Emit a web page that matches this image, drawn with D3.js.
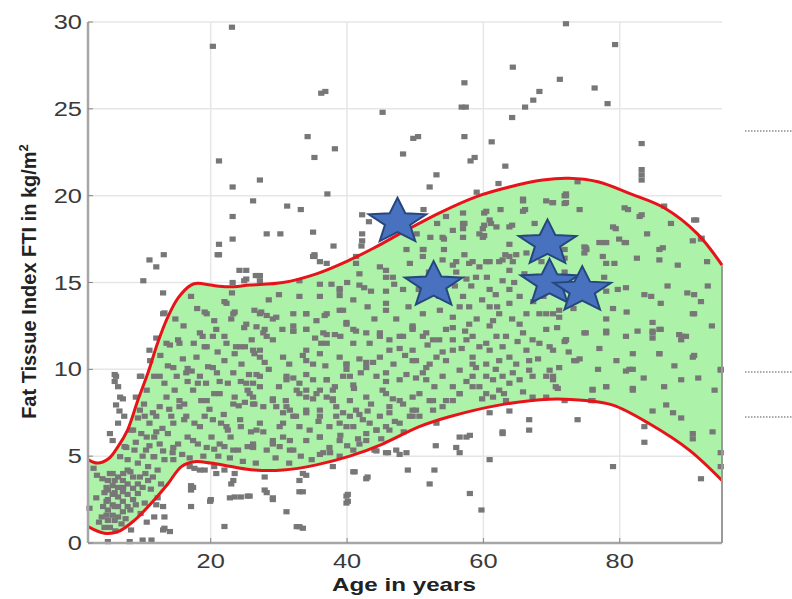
<!DOCTYPE html>
<html><head><meta charset="utf-8">
<script src="https://cdn.jsdelivr.net/npm/d3@7"></script>
<style>body{margin:0;background:#fff}svg{display:block}</style>
</head><body><svg id="c" width="792" height="599"></svg>
<script>
const xTicks=[20,40,60,80];
const yTicks=[0,5,10,15,20,25,30];
const upperAge=[2,3.4,5,6.4,7.8,9.3,10.8,12.2,13.7,15.2,17.1,18.1,20,22.5,25.7,30.6,35.5,40.4,44,47.7,53.5,59,63.8,68.7,72.5,76.8,81.6,86.5,91.4,95];
const upperFti=[4.8,4.6,4.85,5.55,6.5,8.2,9.8,11.5,13.0,14.1,14.85,14.95,14.85,14.75,14.85,15.0,15.5,16.3,17.0,17.8,19.0,19.95,20.5,20.9,21.0,20.8,20.1,19.3,17.8,16.0];
const lowerAge=[2,4.4,6.4,8.8,11.3,13.7,15.7,17.6,20,23,26.4,30.6,35.5,40.4,45.2,50.6,55,62.3,69.7,75,79,84.3,90.2,95];
const lowerFti=[0.94,0.56,0.65,1.3,2.3,3.4,4.4,4.68,4.6,4.4,4.2,4.2,4.5,5.0,5.7,6.7,7.27,7.94,8.28,8.2,7.94,6.88,5.35,3.6];
const starAge=[47.4,52.7,69.4,69.7,74.5];
const starFti=[18.5,14.85,17.25,14.98,14.56];

const ptsHigh=[[23.1,29.7],[20.3,28.6],[72.1,29.9],[79.3,28.7],[64.3,27.4],[57.2,26.5],[71.2,26.7],[76.3,26.2],[36.2,25.9],[36.8,26.0],[68.2,26.0],[67.3,25.5],[66.1,25.1],[78.2,25.3],[56.8,25.1],[57.4,25.1],[45.2,24.8],[64.2,24.5],[21.2,22.0],[34.2,23.4],[38.2,22.7],[35.2,22.2],[49.7,23.3],[50.4,23.4],[57.2,23.4],[61.2,23.1],[83.2,23.0],[48.2,22.4],[58.1,22.0],[58.7,22.2],[63.2,21.7],[53.1,21.2],[83.2,21.5],[83.2,20.9],[83.2,21.2],[23.2,20.5],[27.2,20.9],[62.2,20.7],[52.1,20.5],[37.1,20.1],[26.2,19.7],[31.2,19.4],[33.2,19.2],[23.2,18.8],[59.0,20.2],[42.2,18.9],[51.2,19.2],[28.2,17.8],[30.2,17.8],[35.0,17.9],[21.2,17.2],[23.2,17.5],[13.1,16.6],[11.0,16.3],[21.2,16.6],[42.2,17.8],[42.2,17.4],[38.0,17.1],[43.2,18.5],[35.2,16.6],[10.1,15.1],[12.0,15.9],[13.0,14.4],[24.2,15.7],[25.2,15.7],[25.2,15.2],[27.2,15.4],[27.2,15.1],[13.2,13.25],[12.0,11.8],[11.0,11.1],[6.1,9.6],[6.4,9.0],[7.1,8.3],[6.1,7.95],[6.6,7.6],[7.3,7.3],[6.4,6.9],[5.2,6.3],[5.6,5.9],[5.9,9.7],[5.9,9.3],[6.7,8.4],[21.0,16.6],[26.6,15.4],[35.2,16.5],[36.0,16.2],[37.0,16.1],[41.3,16.5],[35.0,16.5],[42.1,17.1]];

const ptsYoung=[[23.2,15.0],[24.9,15.1],[23.1,14.4],[17.1,14.2],[19.1,13.3],[22,13.9],[23.5,13.3],[23,12.9],[24.9,12.4],[26.4,13.4],[15.2,11.7],[14,11.4],[18.8,11.9],[20.3,11.9],[22,11.9],[19.1,11.3],[23.7,11.3],[25,11.3],[26.4,10.9],[17.9,10.7],[19.6,10.15],[22,10.5],[23.5,10.9],[16.6,10.05],[13.7,10.2],[11.7,9.6],[9.8,9.6],[13.2,9.2],[14.7,8.8],[16.6,9.3],[18.1,9.2],[19.3,9.2],[21.3,9.3],[22.5,9.2],[24.4,9.3],[25.4,8.8],[20.5,8.6],[23.5,8.4],[25,8.1],[26.4,8.0],[16.1,8.0],[15.4,7.85],[12.5,7.85],[11.5,7.5],[9.3,7.2],[14.2,7.3],[16.1,7.1],[17.6,6.9],[19.1,7.3],[21.5,6.9],[22.5,6.5],[24.4,6.7],[25.9,6.4],[8.3,6.5],[9.8,6.3],[11.7,6.1],[13.7,6.3],[15.2,5.7],[16.6,6.1],[18.1,5.7],[20.1,6.1],[20.5,5.4],[22,5.55],[24,5.35],[25.4,5.55],[7.35,5.55],[8.8,5.35],[10.5,5.35],[11.7,4.97],[13.2,4.8],[14.4,5.2],[7.8,4.8],[9.3,4.6],[10.8,4.4],[12.2,4.2],
[13,13.2],[19.4,13.2],[22.3,13.8],[23.3,13.2],[18.4,12.1],[20.8,12.3],[25.2,12.6],[13.5,11.5],[15.4,11.5],[19.4,11.3],[22.3,11.5],[24.3,11.3],[11.1,10.5],[12.5,9.6],[9.6,9.6],[14.5,10.1],[16.4,9.8],[18.4,9.6],[20.3,10.1],[23.3,9.8],[25.2,9.2],[10.6,8.8],[13.5,8.4],[15.4,8.2],[17.4,8.8],[19.4,8.2],[21.3,8.6],[23.3,8.0],[26.2,8.4],[9.6,7.65],[12,7.3],[14.5,6.9],[16.4,7.3],[18.4,6.7],[20.3,7.1],[22.3,6.7],[24.3,7.1],[8.6,6.5],[10.6,6.1],[12.5,5.7],[14.5,5.5],[17.4,5.9],[19.4,5.5],[21.3,5.7],[23.3,5.35],[26.2,5.5],[11.6,4.97],[14.5,4.8],[7.6,5.5],[6.7,4.97],
[9.0,8.4],[10.2,8.0],[11.0,6.9],[12.9,6.6],[13.9,7.7],[15.0,9.6],[15.9,10.6],[17.2,9.9],[18.6,8.2],[19.8,7.7],[20.9,9.8],[21.9,7.4],[22.9,6.1],[24.1,7.9],[25.6,9.7],[26.0,11.7],[24.5,10.3],[21.0,11.0],[17.5,11.5],[16.0,12.5],[14.8,12.9],[18.0,13.5],[20.5,12.8],[12.6,10.8],[10.3,7.3],[9.0,5.8],[10.0,5.0],[11.0,5.6],[12.0,6.4],[13.0,5.3],[15.8,5.1],[16.9,4.9],[18.9,5.0],[21.1,5.0],[22.8,4.9],[24.7,4.7],[26.6,4.6],[8.2,4.1],[9.6,3.8],[10.4,4.0],[11.2,3.1],[12.7,3.4],[12.0,2.2],[3.6,1.2],[3.2,2.6],[4.4,2.9],[4.1,3.7],[5.2,0.9],[6.0,0.7],[6.9,1.1],[7.5,1.4],[8.2,1.9],[9.0,2.2],[9.7,1.7],[10.6,1.2],[3.3,3.9],[2.8,4.3],
[4.9,3.6],[4.9,3.05],[4.9,2.5],[4.9,1.9],[4.9,1.3],[5.6,4.0],[5.6,3.3],[5.6,2.8],[5.6,2.2],[5.6,1.6],[6.4,3.8],[6.4,3.2],[6.4,2.65],[6.4,2.1],[6.4,1.5],[7.1,3.6],[7.1,2.95],[7.1,2.4],[7.1,1.8],[7.8,4.2],[7.8,3.4],[7.8,2.8],[7.8,2.1],[8.6,3.8],[8.6,3.15],[8.6,2.5],[9.3,3.4],[9.3,2.85],[10.0,3.2],[10.8,3.6],[11.5,3.8],[12.2,2.6],[13.0,2.1],[13.2,1.5],[11.7,1.5],[10.3,2.3],[4.2,2.1],[4.0,1.5],[4.4,0.9],[5.2,4.0],[4.7,3.2],[4.7,2.4],[4.7,1.6],[5.9,3.6],[5.9,2.9],[5.9,2.1],[5.9,1.3],[7.15,4.0],[7.15,3.2],[2.2,2.0],
[16.9,4.4],[17.6,4.3],[19.1,4.2],[20.5,4.4],[22,4.2],[23.5,4.0],[17.1,3.3],[17.1,3.05],[20,2.5],[17.1,2.1],[23.5,2.65],[24.4,2.65],[25.4,2.7],[23,3.4],[22,0.95],[13.2,0.85],[8.3,0.75],[4.9,0.08],[8.1,0.08],[10.0,0.17],[18.4,4.2],[20.8,4.0],[23.3,3.6],[17.4,3.2],[19.9,2.4],[22.8,2.6],[13,0.75],[14,0.66],[11.3,0.17]];

const ptsMid=[[26.9,15.4],[33.0,15.1],[36,14.9],[37.7,14.9],[38.9,14.65],[38.9,14.25],[41.8,14.85],[42.5,14.7],[43.5,14.5],[45.7,15.7],[46.7,15.3],[46.9,14.9],[45.7,14.5],[41.3,16.1],[40.9,14.0],[45.7,13.8],[45.7,13.4],[38.9,13.4],[27.4,13.3],[28.2,13.1],[29.1,12.9],[32.1,13.2],[34,13.2],[37,13.2],[39.9,12.7],[32.1,12.5],[32.1,12.2],[34,12.3],[26.7,12.45],[27.9,12.3],[29.1,11.7],[28.2,11.9],[37,12.0],[36.2,11.5],[36,10.9],[41.3,12.2],[42.8,12.1],[44.8,11.9],[46.2,11.7],[48.2,11.9],[49.6,12.3],[46.2,11.1],[47.7,11.2],[26.2,11.1],[27.2,10.7],[27.9,10.4],[34,11.1],[34,10.5],[38.9,10.7],[39.9,10.3],[39.9,10.0],[41.8,10.6],[42.8,10.4],[43.8,10.4],[49.6,11.1],[26.7,9.7],[26.2,9.2],[27.2,9.0],[31.1,9.6],[32.1,9.5],[33,9.2],[34,9.7],[35,9.4],[37,9.4],[40.4,9.6],[40.9,9.1],[44.3,9.6],[45.7,9.3],[48.7,9.7],[50.1,9.5],[33,8.6],[34,8.4],[35,8.3],[36,8.8],[37,8.4],[37.9,8.3],[45.7,8.6],[46.7,8.3],[25.7,8.6],[26.2,8.0],[27.7,7.85],[29.1,8.3],[29.6,7.85],[30.6,7.5],[31.6,7.65],[32.5,7.3],[34,7.5],[36,7.65],[38.4,7.85],[39.4,7.5],[40.4,7.3],[41.8,7.4],[43.3,6.9],[44.8,7.3],[46.2,7.5],[49.6,7.3],[50.1,7.65],[26.7,6.5],[27.7,6.4],[29.1,5.9],[30.6,6.9],[30.6,6.1],[31.6,5.9],[32.1,5.35],[33,6.7],[34.5,6.5],[36,6.1],[37.4,6.7],[38.9,6.9],[40.9,6.7],[42.8,6.3],[44.3,6.5],[46.2,6.5],[30.1,5.55],[28.2,5.35],[26.2,5.7],[36.5,5.2],[38.9,5.0],
[27.2,13.2],[29.6,13.0],[32.1,12.2],[27.7,12.1],[27.2,11.1],[30.6,10.7],[27.2,9.6],[31.1,9.4],[32.6,8.8],[29.1,8.2],[31.1,7.85],[27.2,6.9],[30.1,6.7],[32.1,7.3],[29.1,5.7],[31.6,5.35],
[34,13.2],[36.7,13.1],[39.4,13.4],[34,12.3],[36.5,12.1],[37,11.5],[39.9,12.6],[40.9,12.3],[40.9,11.5],[43.3,11.5],[44.8,12.1],[47.7,11.9],[49.6,12.4],[35,10.3],[37,9.4],[39.9,10.3],[39.4,9.6],[42.8,10.1],[44.8,10.7],[45.7,9.8],[47.7,9.4],[49.6,10.5],[34,8.8],[35.5,8.6],[37.9,8.8],[37.9,8.2],[40.4,8.2],[41.3,7.65],[42.8,8.4],[45.2,8.8],[46.2,7.85],[47.7,8.2],[49.6,7.65],[34,7.65],[36,7.3],[38.4,7.3],[39.9,6.7],[42.3,7.1],[44.3,6.5],[45.7,6.7],[47.7,6.9],[49.2,7.3],[34,5.9],[36,6.1],[37.4,5.5],[38.9,5.9],[40.9,5.35],[41.8,5.7],[36,5.1],
[41.8,15.5],[44.8,15.9],[45.7,15.3],[38.9,14.55],[48.7,16.9],[49.2,16.1],
[28.5,10.0],[30.0,9.0],[31.5,10.3],[33.5,10.8],[35.3,11.8],[36.8,10.2],[38.2,9.0],[39.0,11.9],[41.0,8.9],[42.0,9.8],[43.5,8.0],[44.0,12.9],[46.8,10.3],[48.5,10.8],[47.2,12.9],[49.0,13.6],[43.0,13.6],[36.0,14.2],[33.0,14.2],[30.0,14.3],[28.5,14.0],[30.5,12.3],[35.5,12.8],[38.2,12.0],[48.2,14.6],[40.0,15.0],[31.0,8.2],[35.8,7.0],[39.0,6.2],[41.6,6.0],[45.0,6.0],[47.0,7.0],[48.2,8.0],[43.0,7.6],[29.5,4.9],[31.5,4.6],[33.2,5.0],[34.8,4.8],[37.5,5.2],[40.0,5.6],[42.8,5.9],[48.3,6.4],
[27.9,3.8],[33,3.6],[34,3.9],[27.9,3.05],[29.1,2.6],[33,2.95],[31.1,1.8],[33,0.94],[37.9,4.4],[41.1,4.1],[42.8,3.7],[39.9,2.7],[39.9,2.3],[45.7,5.2],[47.2,5.35],[48.7,5.2],[48.9,4.2],[44.0,5.35],[25.7,2.7],[28.2,2.9],[29.1,2.5],[32.6,0.94],[33.5,4.0],[33.5,2.95],[33.5,0.85],[40.9,4.1],[43,3.8],[40.1,2.8],[40.1,2.4],[44.3,5.3],[46,5.2],[47.7,5.1]];

const ptsOld=[[51.1,16.5],[54,16.3],[56,16.2],[58.4,16.2],[60.4,16.2],[62.3,16.2],[64.3,16.2],[54.5,18.8],[57,19.0],[57,18.4],[54,17.6],[57,17.6],[59.4,17.8],[61.9,18.2],[63.8,18.2],[65.8,19.7],[69.2,19.7],[66.1,19.2],[70.1,19.6],[60.1,19.0],[61.1,18.4],[60.1,18.3],[57.2,18.4],[53.2,18.4],[64.2,18.3],[54.2,17.5],[51.2,16.9],[54.2,16.9],[57.2,16.6],[60.1,17.7],[63.2,16.6],
[65.8,19.8],[65.8,19.1],[70.2,19.6],[71.9,20.0],[71.9,19.55],[60.4,19.1],[60.9,18.6],[59.9,18.1],[59.9,17.6],[57,18.1],[63.8,17.2],[51.1,16.9],[55.5,16.0],[57.9,16.1],[59.4,15.9],[60.9,16.2],[62.8,16.3],[63.8,16.5],[64.8,16.6],[66.3,16.7],[58.9,15.3],[63.8,15.7],[62.8,15.1],[63.8,14.6],[60.9,14.6],[57,14.2],[57.9,13.6],[56.5,13.6],[60.9,13.6],[62.3,13.2],[63.8,13.8],[65.3,14.2],[68.2,13.2],[69.2,13.2],[71.1,13.4],[55.5,13.0],[53.6,13.4],[51.1,13.2],[49.6,12.5],[51.1,11.9],[52.6,11.7],[54.5,12.3],[55.5,11.7],[55.5,11.1],[57.9,12.6],[58.4,11.9],[60.9,12.5],[61.9,11.9],[60.4,11.5],[60.9,11.1],[62.8,11.3],[65.3,12.6],[65.8,12.1],[67.2,11.7],[69.7,11.3],[69.2,12.3],[72.1,11.7],[50.1,10.5],[52.1,10.3],[53.1,10.7],[58.4,10.7],[58.9,10.1],[60.4,10.3],[63.8,10.7],[64.8,10.3],[66.7,10.5],[66.7,9.95],[69.7,9.95],[71.1,10.1],[51.1,9.8],[51.6,9.4],[54,9.6],[55.5,9.0],[56.5,8.6],[58.4,9.6],[59.4,9.0],[61.4,9.4],[62.8,9.6],[63.8,9.2],[65.3,9.4],[69.2,9.6],[70.6,9.0],[49.6,8.4],[52.1,8.2],[54,7.85],[61.4,8.4],[63.3,8.2],[67.2,8.4],[69.2,8.4],[50.6,7.3],[53.1,6.9],
[51.6,12.1],[53.5,11.7],[55.5,12.4],[57.5,11.7],[59.4,11.3],[61.4,12.8],[63.3,11.9],[66.3,11.1],[68.2,11.5],[70.2,13.2],[51.6,10.1],[54.5,10.5],[56.5,9.95],[58.4,10.3],[60.4,9.6],[62.3,10.5],[64.3,9.8],[67.2,9.6],[70.2,9.6],[50.6,8.6],[52.6,8.2],[55.5,8.2],[56.5,8.6],[58.4,9.0],[60.4,8.6],[62.3,8.8],[52.6,7.65],[54.5,8.2],[71.1,13.0],[71.9,11.6],[70.2,11.1],[70.2,9.4],[70.9,8.9],
[50.5,14.6],[52.0,15.6],[53.5,14.2],[55.8,14.8],[57.5,15.2],[59.8,14.0],[61.8,14.3],[64.5,15.0],[66.0,15.5],[67.3,13.9],[66.3,13.2],[64.2,12.9],[59.0,12.9],[56.8,11.2],[54.0,11.0],[51.8,11.4],[52.8,9.0],[57.5,9.3],[59.8,8.3],[61.8,10.0],[63.0,8.6],[65.8,8.7],[68.0,10.6],[70.8,12.4],[71.5,14.6],[71.9,15.6],[68.5,16.2],[66.2,17.6],[67.5,18.4],[62.5,19.2],[55.5,18.0],[52.2,17.6],[50.2,17.8],[56.0,15.6],[58.2,14.8],[60.5,15.3],[57.3,12.2],[62.0,13.6],[65.0,11.6],[68.8,14.2],
[60.9,7.5],[63.8,7.6],[66.7,7.1],[66.7,6.5],[62.8,6.3],[58,6.2],[56.5,6.1],[52.8,4.2],[52.1,3.4],[53,5.6],[56,5.5],[56.5,5.2],[57.5,6.1],[58,2.85],[59.7,1.9],[60.9,4.8],[62.8,6.4]];

const ptsSenior=[[74.1,19.2],[72.1,20.0],[72.1,19.6],[81.2,19.2],[83.2,18.9],[79.4,18.1],[91.2,18.6],[92,17.55],[77.6,17.3],[80.7,17.3],[75.1,16.9],[86.3,17.0],[75,17.0],[72.1,20.1],
[73.8,20.8],[80.7,19.3],[82.9,18.8],[86.5,19.4],[90.9,18.6],[91.9,17.5],[90.7,17.4],[79,18.2],[79.9,17.5],[80.9,17.3],[77,17.3],[78,17.3],[74.8,17.05],[74.8,16.7],[85.8,16.9],[85.8,16.3],[71.9,16.9],[71.9,16.4],[78,16.1],[79.2,16.1],[77.7,15.3],[92.9,14.8],[78,14.5],[79.7,14.6],[80.9,14.7],[83.6,14.3],[84.6,14.2],[86,13.8],[89.9,14.4],[90.9,14.3],[91.9,13.9],[79,13.5],[90.7,13.2],[78,12.9],[84.8,12.7],[86,12.3],[84.8,12.2],[84.8,11.8],[88.7,12.0],[89.7,11.9],[89,11.7],[75,12.1],[78,12.1],[80.9,11.9],[72.1,11.7],[77,11.2],[81.9,10.9],[85.8,10.9],[90.7,10.7],[73.3,10.5],[74.1,10.6],[80.9,9.9],[81.9,10.0],[94.8,9.95],[89,9.4],[78,9.0],[76,8.85],[81.9,8.9],[93.9,8.8],[86.8,7.95],[84.8,7.6],[87.8,7.5],[89,7.2],[90.7,6.3],[90.7,6.0],[93.6,6.4],[94.8,5.2],[94.8,4.4],[71.9,8.2],[75.8,8.2],
[74.8,12.1],[78,12.2],[84.8,12.1],[85.8,12.3],[89.2,11.9],[90.9,10.8],[90.9,13.2],[85.8,10.9],[81.4,10.0],[76,8.8],[78,9.0],[81.9,8.8],[76,8.2],[73.6,10.5],[72.5,11.0],
[73.2,13.5],[76.2,13.8],[77.5,16.5],[82.5,16.4],[84.0,17.8],[87.5,18.4],[88.5,16.0],[87.0,14.8],[92.8,16.2],[93.5,12.5],[88.0,10.2],[83.5,9.5],[79.5,10.5],[76.8,10.0],[74.5,14.6],[81.0,13.3],[82.6,12.2],[86.5,9.0],[91.5,9.5],
[73.8,7.1],[79,4.4],[91.9,3.7],[83.6,6.7],[83.6,5.8],[94.8,10.0]];

const svg=d3.select('#c');
const x=d3.scaleLinear().domain([2,95]).range([88,722]);
const y=d3.scaleLinear().domain([0,30]).range([543,22]);
const SX=1.27;

// grid
svg.append('g').selectAll('line').data(xTicks).join('line')
  .attr('x1',d=>x(d)).attr('x2',d=>x(d)).attr('y1',y(30)).attr('y2',y(0))
  .attr('stroke','#e6e6e6').attr('stroke-width',1.5);
svg.append('g').selectAll('line').data(yTicks.filter(d=>d>0)).join('line')
  .attr('x1',x(2)).attr('x2',x(95)).attr('y1',d=>y(d)).attr('y2',d=>y(d))
  .attr('stroke','#e6e6e6').attr('stroke-width',1.5);

const upper=upperAge.map((a,i)=>[a,upperFti[i]]);
const lower=lowerAge.map((a,i)=>[a,lowerFti[i]]);
const line=d3.line().x(d=>x(d[0])).y(d=>y(d[1])).curve(d3.curveCatmullRom.alpha(0.5));
const up=line(upper), lo=line(lower.slice().reverse());
svg.append('path').attr('d',up+'L'+lo.slice(1)+'Z').attr('fill','#acf2a8').attr('stroke','none');

// points
const allPts=[].concat(ptsHigh,ptsYoung,ptsMid,ptsOld,ptsSenior);
svg.append('g').selectAll('rect').data(allPts).join('rect')
  .attr('x',d=>x(d[0])-3).attr('y',d=>y(d[1])-2.6).attr('width',6.2).attr('height',5.2)
  .attr('fill','#777777');

// curves
svg.append('path').attr('d',up).attr('fill','none').attr('stroke','#e8131a').attr('stroke-width',3);
svg.append('path').attr('d',line(lower)).attr('fill','none').attr('stroke','#e8131a').attr('stroke-width',3);

// axes
svg.append('line').attr('x1',x(2)).attr('x2',x(2)).attr('y1',y(30)).attr('y2',y(0)).attr('stroke','#a6a6a6').attr('stroke-width',2.5);
svg.append('line').attr('x1',x(2)).attr('x2',x(95)).attr('y1',y(0)).attr('y2',y(0)).attr('stroke','#a6a6a6').attr('stroke-width',2.5);
svg.append('line').attr('x1',x(95)).attr('x2',x(95)).attr('y1',y(upperFti[upperFti.length-1])).attr('y2',y(0)).attr('stroke','#9a9a9a').attr('stroke-width',2);
svg.append('g').selectAll('line').data(yTicks).join('line')
  .attr('x1',x(2)).attr('x2',x(2)+5).attr('y1',d=>y(d)).attr('y2',d=>y(d)).attr('stroke','#888').attr('stroke-width',1);
svg.append('g').selectAll('line').data(xTicks).join('line')
  .attr('x1',d=>x(d)).attr('x2',d=>x(d)).attr('y1',y(0)).attr('y2',y(0)-5).attr('stroke','#888').attr('stroke-width',1);

// stars
function starPath(R,r,sx){const p=[];for(let i=0;i<10;i++){const a=-Math.PI/2+i*Math.PI/5;const rr=i%2?r:R;p.push([Math.cos(a)*rr*sx,Math.sin(a)*rr]);}return 'M'+p.map(q=>q[0].toFixed(2)+','+q[1].toFixed(2)).join('L')+'Z';}
svg.append('g').selectAll('path').data(starAge.map((a,i)=>[a,starFti[i]])).join('path')
  .attr('transform',d=>`translate(${x(d[0])},${y(d[1])})`)
  .attr('d',starPath(24,10.5,1.26)).attr('fill','#4872bf').attr('stroke','#27467c').attr('stroke-width',2).attr('stroke-linejoin','miter');

// tick labels
const F='Liberation Sans, Arial, Helvetica, sans-serif';
svg.append('g').selectAll('text').data(yTicks).join('text')
  .attr('transform',d=>`translate(82,${y(d)+7}) scale(${SX},1)`)
  .attr('text-anchor','end').attr('font-family',F).attr('font-size',20).attr('fill','#3a3a3a').text(d=>d);
svg.append('g').selectAll('text').data(xTicks).join('text')
  .attr('transform',d=>`translate(${x(d)},568) scale(${SX},1)`)
  .attr('text-anchor','middle').attr('font-family',F).attr('font-size',20).attr('fill','#3a3a3a').text(d=>d);

svg.append('text').attr('transform',`translate(404,591) scale(1.3,1)`).attr('text-anchor','middle')
  .attr('font-family',F).attr('font-weight','bold').attr('font-size',18.6).attr('fill','#222').text('Age in years');
const yl=svg.append('text').attr('transform','translate(36,281.5) rotate(-90)').attr('text-anchor','middle')
  .attr('font-family',F).attr('font-weight','bold').attr('font-size',20).attr('fill','#222');
yl.append('tspan').text('Fat Tissue Index FTI in kg/m');
yl.append('tspan').attr('dy',-8).attr('font-size',13).text('2');

// dotted marks at right
svg.append('g').selectAll('line').data([131,372,417]).join('line')
  .attr('x1',745).attr('x2',792).attr('y1',d=>d).attr('y2',d=>d)
  .attr('stroke','#555').attr('stroke-width',1).attr('stroke-dasharray','1.5,1.5');
</script></body></html>
